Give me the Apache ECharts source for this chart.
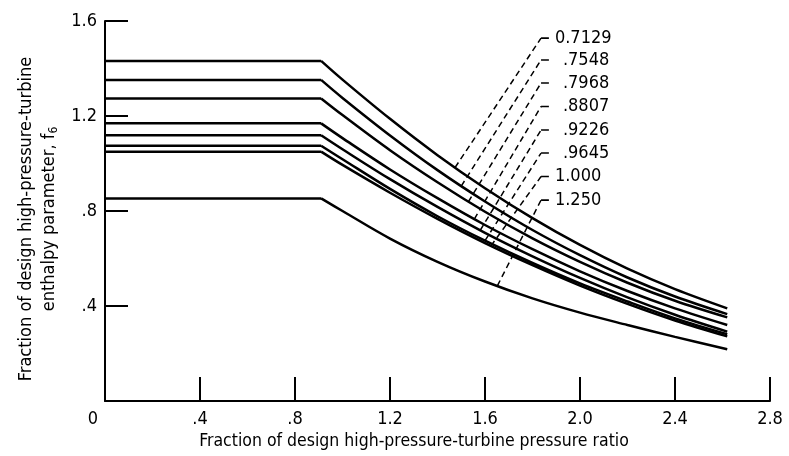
<!DOCTYPE html>
<html>
<head>
<meta charset="utf-8">
<script src="https://cdn.jsdelivr.net/npm/echarts@6/dist/echarts.min.js"></script>
<style>
  html, body { margin: 0; padding: 0; background: #ffffff; }
  #chart { width: 789px; height: 456px; }
</style>
</head>
<body>
<div id="chart"></div>
<script>
// Pressure-ratio stations (fraction of design) where each curve is read;
// the second station is the knee where the flat part ends
const xStations = [0, 0.91, 1.0, 1.2, 1.4, 1.6, 1.8, 2.0, 2.2, 2.4, 2.62];

// Enthalpy parameter f6 for each curve, one value per station
const curve7129 = [1.432, 1.432, 1.353, 1.188, 1.035, 0.896, 0.770, 0.657, 0.557, 0.471, 0.390];
const curve7548 = [1.352, 1.352, 1.276, 1.118, 0.972, 0.840, 0.720, 0.614, 0.520, 0.440, 0.366];
const curve7968 = [1.274, 1.274, 1.204, 1.056, 0.921, 0.797, 0.685, 0.586, 0.498, 0.422, 0.352];
const curve8807 = [1.169, 1.169, 1.107, 0.975, 0.854, 0.741, 0.639, 0.546, 0.463, 0.390, 0.320];
const curve9226 = [1.119, 1.119, 1.060, 0.934, 0.817, 0.708, 0.609, 0.518, 0.436, 0.363, 0.292];
const curve9645 = [1.075, 1.075, 1.018, 0.893, 0.778, 0.675, 0.581, 0.495, 0.419, 0.348, 0.281];
const curve1000 = [1.050, 1.050, 0.994, 0.877, 0.767, 0.665, 0.572, 0.486, 0.409, 0.339, 0.272];
const curve1250 = [0.853, 0.853, 0.800, 0.684, 0.586, 0.503, 0.432, 0.372, 0.320, 0.270, 0.218];

// Curve labels and their leader lines (dashed from curve up to the label)
const curveLabels = ['0.7129', '.7548', '.7968', '.8807', '.9226', '.9645', '1.000', '1.250'];
const leaderFootX = [1.474, 1.50, 1.53, 1.555, 1.58, 1.60, 1.625, 1.652];
const leaderFootY = [0.983, 0.905, 0.839, 0.766, 0.719, 0.675, 0.653, 0.485];
const labelLevelY = [1.528, 1.436, 1.339, 1.240, 1.141, 1.044, 0.945, 0.846];
const leaderTopX = 1.836;
const labelBarEndX = 1.869;

// Axis tick labels
const xTickValues = [0, 0.4, 0.8, 1.2, 1.6, 2.0, 2.4, 2.8];
const xTickLabels = ['0', '.4', '.8', '1.2', '1.6', '2.0', '2.4', '2.8'];
const yTickValues = [0, 0.4, 0.8, 1.2, 1.6];
const yTickLabels = ['', '.4', '.8', '1.2', '1.6'];

const curves = [curve7129, curve7548, curve7968, curve8807, curve9226, curve9645, curve1000, curve1250];

const FONT = '"DejaVu Sans Condensed", "Liberation Sans Narrow", "DejaVu Sans", sans-serif';
const INK = '#000000';
const KNEE = 1; // index of the knee station

function tickText(values, labels, v) {
  for (let i = 0; i < values.length; i++) {
    if (Math.abs(values[i] - v) < 1e-6) return labels[i];
  }
  return '';
}

const series = [];

curves.forEach((vals, i) => {
  const pts = xStations.map((x, k) => [x, vals[k]]);
  // flat part up to the knee
  series.push({
    type: 'line',
    name: curveLabels[i],
    data: pts.slice(0, KNEE + 1),
    symbol: 'none',
    lineStyle: { color: INK, width: 2.5 },
    z: 3,
    silent: true
  });
  // falling part from the knee on
  series.push({
    type: 'line',
    name: curveLabels[i],
    data: pts.slice(KNEE),
    symbol: 'none',
    smooth: 0.35,
    lineStyle: { color: INK, width: 2.5 },
    z: 3,
    silent: true
  });
});

curveLabels.forEach((txt, i) => {
  // dashed leader from the curve to the label level
  series.push({
    type: 'line',
    data: [[leaderFootX[i], leaderFootY[i]], [leaderTopX, labelLevelY[i]]],
    symbol: 'none',
    lineStyle: { color: INK, width: 1.5, type: [6, 4] },
    z: 2,
    silent: true
  });
  // short solid bar carrying the label
  series.push({
    type: 'line',
    data: [[leaderTopX, labelLevelY[i]], [labelBarEndX, labelLevelY[i]]],
    symbol: 'none',
    lineStyle: { color: INK, width: 1.6 },
    endLabel: {
      show: true,
      formatter: txt,
      distance: txt.charAt(0) === '.' ? 14 : 6,
      color: INK,
      fontFamily: FONT,
      fontSize: 18
    },
    z: 2,
    silent: true
  });
});

const chart = echarts.init(document.getElementById('chart'), null, { renderer: 'canvas' });

chart.setOption({
  backgroundColor: '#ffffff',
  animation: false,
  grid: { left: 105, right: 19, top: 21, bottom: 55, containLabel: false },
  xAxis: {
    type: 'value',
    min: 0,
    max: 2.8,
    interval: 0.4,
    axisLine: { show: true, onZero: false, lineStyle: { color: INK, width: 2 } },
    axisTick: { show: true, inside: true, length: 24, lineStyle: { color: INK, width: 2 } },
    splitLine: { show: false },
    axisLabel: {
      margin: 9,
      color: INK,
      fontFamily: FONT,
      fontSize: 18,
      formatter: v => {
        const t = tickText(xTickValues, xTickLabels, v);
        return v === 0 ? '{z|' + t + '}' : t;
      },
      rich: {
        z: { fontFamily: FONT, fontSize: 18, color: INK, padding: [0, 24, 0, 0] }
      }
    },
    name: 'Fraction of design high-pressure-turbine pressure ratio',
    nameLocation: 'middle',
    nameGap: 28,
    nameTextStyle: {
      color: INK,
      fontFamily: FONT,
      fontSize: 17.5,
      padding: [0, 47, 0, 0]
    }
  },
  yAxis: {
    type: 'value',
    min: 0,
    max: 1.6,
    interval: 0.4,
    axisLine: { show: true, onZero: false, lineStyle: { color: INK, width: 2 } },
    axisTick: { show: true, inside: true, length: 23, lineStyle: { color: INK, width: 2 } },
    splitLine: { show: false },
    axisLabel: {
      margin: 8,
      color: INK,
      fontFamily: FONT,
      fontSize: 18,
      formatter: v => tickText(yTickValues, yTickLabels, v)
    },
    name: 'Fraction of design high-pressure-turbine\nenthalpy parameter, f{sub|6}',
    nameLocation: 'middle',
    nameRotate: 90,
    nameGap: 43,
    nameTextStyle: {
      color: INK,
      fontFamily: FONT,
      fontSize: 18,
      lineHeight: 23,
      align: 'center',
      padding: [0, 16, 0, 0],
      rich: {
        sub: { fontFamily: FONT, fontSize: 12, color: INK, verticalAlign: 'bottom', lineHeight: 15 }
      }
    }
  },
  series: series
});
</script>
</body>
</html>
